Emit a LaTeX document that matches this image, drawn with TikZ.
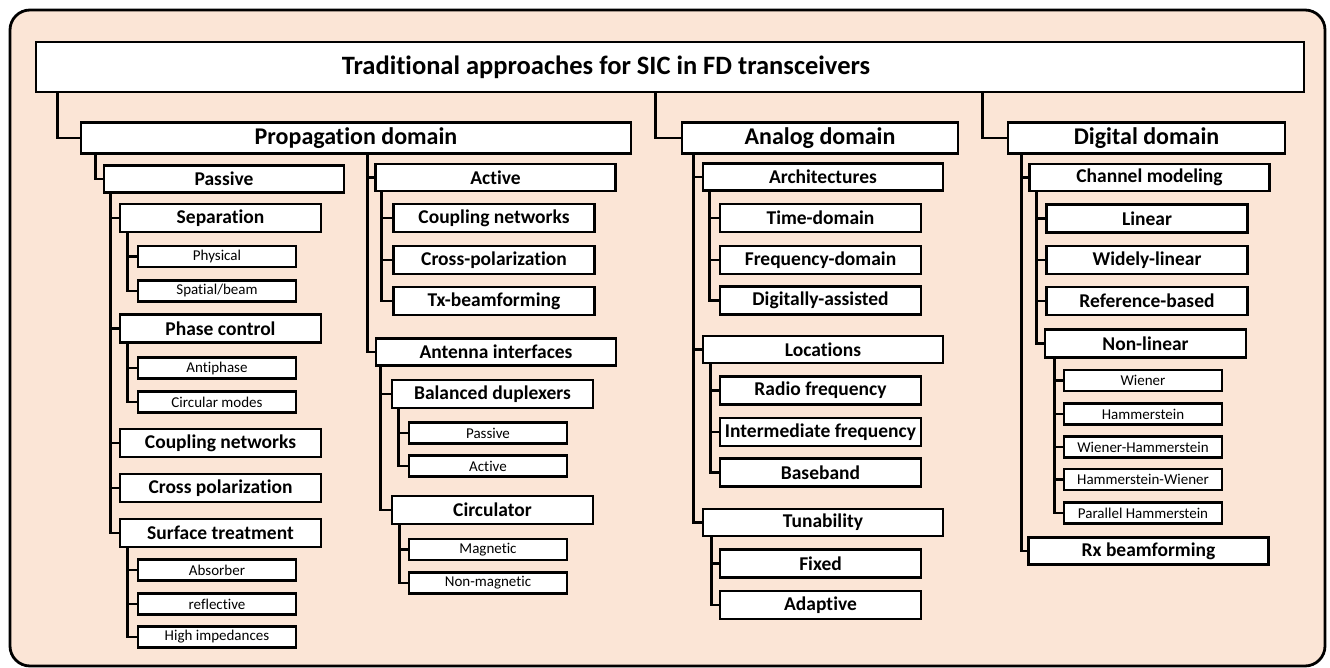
\documentclass[tikz,border=0pt]{standalone}
\usepackage{fontspec}
\setmainfont[Ligatures=NoCommon]{Carlito}
\usepackage{xcolor}
\usepackage{tikz}
\usetikzlibrary{calc}
\definecolor{sfondo}{HTML}{FBE5D6}

\begin{document}
\begin{tikzpicture}[x=1pt, y=-1pt,
    scatola/.style={rectangle, draw=black, line width=2.8pt, fill=white, inner sep=0pt},
    titolo/.style={scatola, minimum width=1268, minimum height=50},
    dominio/.style={scatola, minimum height=31, font=\fontsize{24}{27}\selectfont\bfseries},
    gruppo/.style={scatola, minimum width=240, minimum height=27, font=\fontsize{19.5}{22}\selectfont\bfseries},
    voce/.style={scatola, minimum width=201, minimum height=28, font=\fontsize{19.5}{22}\selectfont\bfseries},
    foglia/.style={scatola, minimum width=158, minimum height=21, font=\fontsize{15}{18}\selectfont},
    ramo/.style={line width=2.8pt}]
        % Area della figura e riquadro di sfondo
        \useasboundingbox (0,0) rectangle (1330,668);
        \draw[line width=2.8pt, rounded corners=20pt, fill=sfondo] (10,10) rectangle (1325,666);

        % Titolo
        \node[titolo] (titolo) at (670,67) {};
        \node[font=\fontsize{26.5}{30}\selectfont\bfseries] (testo) at ($(titolo.center)+(-64,0)$)
            {Traditional approaches for SIC in FD transceivers};

        % Domini
        \node[dominio, minimum width=550] (propagazione) at (356,138) {Propagation domain};
        \node[dominio, minimum width=276] (analogico) at (820,138) {Analog domain};
        \node[dominio, minimum width=277] (digitale) at (1146.5,138) {Digital domain};
        \draw[ramo] (titolo.south -| propagazione.west) ++(-22,0) |- (propagazione.west);
        \draw[ramo] (titolo.south -| analogico.west) ++(-25,0) |- (analogico.west);
        \draw[ramo] (titolo.south -| digitale.west) ++(-24,0) |- (digitale.west);

        % Dominio di propagazione: passivo
        \node[gruppo] (passivo) at (224,179) {Passive};
        \node[voce] (separazione) at (220.5,218) {Separation};
        \node[foglia] (fisica) at (217,256.5) {Physical};
        \node[foglia] (spaziale) at (217,291) {Spatial/beam};
        \node[voce] (fase) at (220.5,328.5) {Phase control};
        \node[foglia] (antifase) at (217,368) {Antiphase};
        \node[foglia] (circolari) at (217,402) {Circular modes};
        \node[voce] (accoppiamento) at (220.5,443) {Coupling networks};
        \node[voce] (polarizzazione) at (220.5,488) {Cross polarization};
        \node[voce] (superficie) at (220.5,533) {Surface treatment};
        \node[foglia] (assorbitore) at (217,570) {Absorber};
        \node[foglia] (riflettente) at (217,604) {reflective};
        \node[foglia] (impedenze) at (217,637) {High impedances};

        % Dominio di propagazione: attivo e interfacce d'antenna
        \node[gruppo] (attivo) at (495.5,177.5) {Active};
        \node[voce] (reti) at (494,218) {Coupling networks};
        \node[voce] (polarizzazione2) at (494,260) {Cross-polarization};
        \node[voce] (txbf) at (494,301) {Tx-beamforming};
        \node[gruppo] (antenna) at (496,352) {Antenna interfaces};
        \node[voce] (duplexer) at (492.5,394) {Balanced duplexers};
        \node[foglia] (passivo2) at (488,433) {Passive};
        \node[foglia] (attivo2) at (488,466) {Active};
        \node[voce] (circolatore) at (492.5,510) {Circulator};
        \node[foglia] (magnetico) at (488,549.5) {Magnetic};
        \node[foglia] (nonmagnetico) at (488,583) {Non-magnetic};

        % Collegamenti del dominio di propagazione
        \draw[ramo] (propagazione.south -| passivo.west) ++(-7,0) |- (passivo.west);
        \foreach \f in {attivo,antenna}
            \draw[ramo] (propagazione.south -| attivo.west) ++(-7,0) |- (\f.west);
        \foreach \f in {separazione,fase,accoppiamento,polarizzazione,superficie}
            \draw[ramo] (passivo.south -| \f.west) ++(-8,0) |- (\f.west);
        \foreach \f in {fisica,spaziale}
            \draw[ramo] (separazione.south -| \f.west) ++(-9,0) |- (\f.west);
        \foreach \f in {antifase,circolari}
            \draw[ramo] (fase.south -| \f.west) ++(-9,0) |- (\f.west);
        \foreach \f in {assorbitore,riflettente,impedenze}
            \draw[ramo] (superficie.south -| \f.west) ++(-9,0) |- (\f.west);
        \foreach \f in {reti,polarizzazione2,txbf}
            \draw[ramo] (attivo.south -| \f.west) ++(-11,0) |- (\f.west);
        \foreach \f in {duplexer,circolatore}
            \draw[ramo] (antenna.south -| \f.west) ++(-10,0) |- (\f.west);
        \foreach \f in {passivo2,attivo2}
            \draw[ramo] (duplexer.south -| \f.west) ++(-9,0) |- (\f.west);
        \foreach \f in {magnetico,nonmagnetico}
            \draw[ramo] (circolatore.south -| \f.west) ++(-8,0) |- (\f.west);

        % Dominio analogico
        \node[gruppo] (architetture) at (823,177) {Architectures};
        \node[voce] (tempo) at (820.5,218) {Time-domain};
        \node[voce] (frequenza) at (820.5,260) {Frequency-domain};
        \node[voce] (assistito) at (820.5,300.5) {Digitally-assisted};
        \node[gruppo] (posizioni) at (823,349.5) {Locations};
        \node[voce] (rf) at (820.5,390.5) {Radio frequency};
        \node[voce] (fi) at (820.5,432) {Intermediate frequency};
        \node[voce] (banda) at (820.5,472.5) {Baseband};
        \node[gruppo] (regolazione) at (823,522.5) {Tunability};
        \node[voce] (fisso) at (820.5,563.5) {Fixed};
        \node[voce] (adattivo) at (820.5,605) {Adaptive};

        \foreach \f in {architetture,posizioni,regolazione}
            \draw[ramo] (analogico.south -| \f.west) ++(-8,0) |- (\f.west);
        \foreach \f in {tempo,frequenza,assistito}
            \draw[ramo] (architetture.south -| \f.west) ++(-9,0) |- (\f.west);
        \foreach \f in {rf,fi,banda}
            \draw[ramo] (posizioni.south -| \f.west) ++(-8,0) |- (\f.west);
        \foreach \f in {fisso,adattivo}
            \draw[ramo] (regolazione.south -| \f.west) ++(-7,0) |- (\f.west);

        % Dominio digitale
        \node[gruppo] (canale) at (1149.5,177.5) {Channel modeling};
        \node[voce] (lineare) at (1147,218.5) {Linear};
        \node[voce] (ampiamente) at (1147,260) {Widely-linear};
        \node[voce] (riferimento) at (1147,301) {Reference-based};
        \node[voce] (nonlineare) at (1145.5,343.5) {Non-linear};
        \node[foglia] (wiener) at (1143,380.5) {Wiener};
        \node[foglia] (hammerstein) at (1143,414) {Hammerstein};
        \node[foglia] (wh) at (1143,447) {Wiener-Hammerstein};
        \node[foglia] (hw) at (1143,479.5) {Hammerstein-Wiener};
        \node[foglia] (parallelo) at (1143,513) {Parallel Hammerstein};
        \node[gruppo] (rxbf) at (1148.5,551) {Rx beamforming};

        \draw[ramo] (digitale.south -| canale.west) ++(-7,0) |- (canale.west);
        \draw[ramo] (digitale.south -| canale.west) ++(-7,0) |- (rxbf.west);
        \foreach \f in {lineare,ampiamente,riferimento,nonlineare}
            \draw[ramo] (canale.south -| lineare.west) ++(-9,0) |- (\f.west);
        \foreach \f in {wiener,hammerstein,wh,hw,parallelo}
            \draw[ramo] (nonlineare.south -| \f.west) ++(-8,0) |- (\f.west);

    \end{tikzpicture}
\end{document}
